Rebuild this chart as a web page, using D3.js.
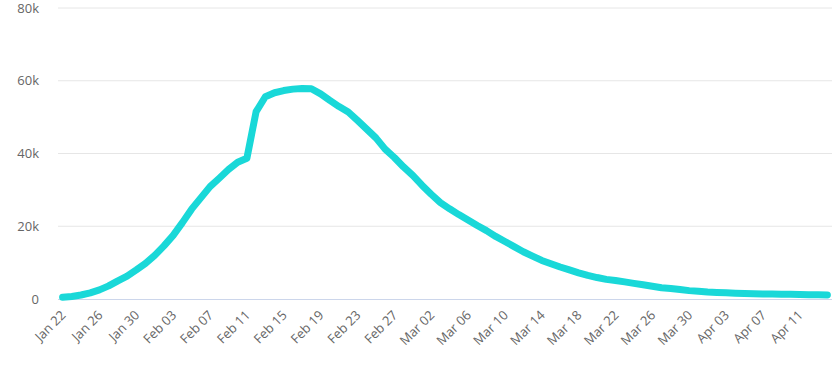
<!DOCTYPE html>
<html>
<head>
<meta charset="utf-8">
<script src="https://cdnjs.cloudflare.com/ajax/libs/d3/7.8.5/d3.min.js"></script>
<style>
    body { margin: 0; background: #fff; }
    .tick-label { font-family: "Open Sans", sans-serif; font-size: 13px; fill: #666; }
</style>
</head>
<body>
<svg id="chart" width="840" height="367"></svg>
<script>
// daily active cases (Jan 22 .. Apr 14)
var startDay = new Date(2020, 0, 22);
var activeCases = [
    500, 700, 1100, 1700, 2500, 3600, 5000, 6300, 8000, 9800,
    12000, 14600, 17500, 21000, 24700, 27800, 30900, 33200, 35600, 37600,
    38700, 51500, 55600, 56700, 57300, 57700, 57900, 57800, 56400, 54600,
    52900, 51400, 49100, 46700, 44300, 41200, 38900, 36300, 34000, 31300,
    28800, 26500, 24800, 23200, 21700, 20200, 18800, 17200, 15800, 14400,
    13000, 11800, 10600, 9700, 8800, 8000, 7200, 6500, 5900, 5400,
    5100, 4700, 4300, 3900, 3500, 3100, 2900, 2600, 2300, 2100,
    1900, 1800, 1700, 1600, 1500, 1450, 1400, 1350, 1300, 1300,
    1250, 1200, 1150, 1100
];
var yTicks = [0, 20000, 40000, 60000, 80000];
var tickEvery = 4;

// category labels, one per day
var fmt = d3.timeFormat("%b %d");
var days = activeCases.map((v, i) => fmt(d3.timeDay.offset(startDay, i)));

var svg = d3.select("#chart");

const PLOT = {left: 58, right: 832, top: 8, bottom: 299};

var xScale = d3.scalePoint().domain(days).range([PLOT.left, PLOT.right]).padding(0.5),
    yScale = d3.scaleLinear().domain([0, 80000]).range([PLOT.bottom, PLOT.top]);

// gridlines
svg.append("g")
    .selectAll("line")
    .data(yTicks.filter(d => d > 0))
    .enter()
    .append("line")
    .attr("x1", PLOT.left)
    .attr("x2", PLOT.right)
    .attr("y1", d => yScale(d))
    .attr("y2", d => yScale(d))
    .attr("stroke", "#e6e6e6")
    .attr("stroke-width", 1);

// baseline
svg.append("line")
    .attr("x1", PLOT.left)
    .attr("x2", PLOT.right)
    .attr("y1", yScale(0) + 0.5)
    .attr("y2", yScale(0) + 0.5)
    .attr("stroke", "#ccd6eb");

// y labels
svg.append("g")
    .selectAll("text")
    .data(yTicks)
    .enter()
    .append("text")
    .attr("class", "tick-label")
    .attr("x", 39)
    .attr("y", d => yScale(d))
    .attr("dy", "0.35em")
    .attr("text-anchor", "end")
    .text(d => d === 0 ? "0" : (d / 1000) + "k");

// x labels, rotated
svg.append("g")
    .selectAll("text")
    .data(days.filter((d, i) => i % tickEvery === 0))
    .enter()
    .append("text")
    .attr("class", "tick-label")
    .attr("text-anchor", "end")
    .attr("transform", d => "translate(" + (xScale(d) + 4) + ",316) rotate(-45)")
    .text(d => d);

// the line
var lineGen = d3.line()
    .x((d, i) => xScale(days[i]))
    .y(d => yScale(d));

svg.append("path")
    .attr("d", lineGen(activeCases))
    .attr("fill", "none")
    .attr("stroke", "#19d8d8")
    .attr("stroke-width", 7)
    .attr("stroke-linejoin", "round")
    .attr("stroke-linecap", "round");
</script>
</body>
</html>
